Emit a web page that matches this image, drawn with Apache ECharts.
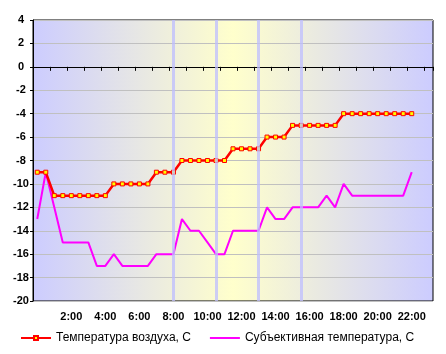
<!DOCTYPE html>
<html>
<head>
<meta charset="utf-8">
<script src="https://cdn.jsdelivr.net/npm/echarts@6/dist/echarts.min.js"></script>
<style>html,body{margin:0;padding:0;background:#fff}#c{width:446px;height:354px}</style>
</head>
<body>
<div id="c"></div>
<script>
var categories = ['0:00','0:30','1:00','1:30','2:00','2:30','3:00','3:30','4:00','4:30','5:00','5:30',
  '6:00','6:30','7:00','7:30','8:00','8:30','9:00','9:30','10:00','10:30','11:00','11:30',
  '12:00','12:30','13:00','13:30','14:00','14:30','15:00','15:30','16:00','16:30','17:00','17:30',
  '18:00','18:30','19:00','19:30','20:00','20:30','21:00','21:30','22:00','22:30','23:00'];
var tickLabels = ['2:00','4:00','6:00','8:00','10:00','12:00','14:00','16:00','18:00','20:00','22:00'];
var airTemp = [-9,-9,-11,-11,-11,-11,-11,-11,-11,-10,-10,-10,-10,-10,-9,-9,-9,-8,-8,-8,-8,-8,-8,
  -7,-7,-7,-7,-6,-6,-6,-5,-5,-5,-5,-5,-5,-4,-4,-4,-4,-4,-4,-4,-4,-4];
var feelTemp = [-13,-9,-12,-15,-15,-15,-15,-17,-17,-16,-17,-17,-17,-17,-16,-16,-16,-13,-14,-14,-15,-16,-16,
  -14,-14,-14,-14,-12,-13,-13,-12,-12,-12,-12,-11,-12,-10,-11,-11,-11,-11,-11,-11,-11,-9];
var bandTimes = ['8:00','10:30','13:00','15:30'];
var seriesNames = ['Температура воздуха, С','Субъективная температура, С'];

var font = 'Liberation Sans, Arial, sans-serif';
var chart = echarts.init(document.getElementById('c'), null, {renderer:'canvas'});
chart.setOption({
  animation: false,
  grid: {
    left: 33, right: 13, top: 20, bottom: 53,
    show: true,
    borderColor: '#000', borderWidth: 1,
    backgroundColor: new echarts.graphic.LinearGradient(0, 0, 1, 0, [
      {offset: 0, color: '#ccccff'},
      {offset: 0.5, color: '#ffffcc'},
      {offset: 1, color: '#ccccff'}
    ])
  },
  legend: {
    data: [
      {name: seriesNames[0]},
      {name: seriesNames[1], itemStyle: {opacity: 0}}
    ],
    left: 15, top: 327,
    itemWidth: 30, itemHeight: 5, itemGap: 18,
    textStyle: {fontFamily: font, fontSize: 12, color: '#000'}
  },
  xAxis: {
    type: 'category',
    data: categories,
    boundaryGap: true,
    axisLine: {lineStyle: {color: '#000', width: 1}},
    axisTick: {show: true, length: 4, interval: function(i){ return i % 2 === 0; }, lineStyle: {color: '#000'}},
    axisLabel: {
      interval: function(i, v){ return tickLabels.indexOf(v) >= 0; },
      margin: 10,
      fontFamily: font, fontSize: 11, fontWeight: 'bold', color: '#000'
    },
    splitLine: {show: false}
  },
  yAxis: {
    type: 'value',
    min: -20, max: 4, interval: 2,
    axisLine: {show: true, lineStyle: {color: '#000', width: 1}},
    axisTick: {show: true, length: 3, lineStyle: {color: '#000'}},
    axisLabel: {
      align: 'center', margin: 12,
      fontFamily: font, fontSize: 11, fontWeight: 'bold', color: '#000'
    },
    splitLine: {show: true, lineStyle: {color: '#c0c0c0', width: 1}}
  },
  series: [
    {
      name: 'bands', type: 'line', data: [], z: 1, silent: true,
      markLine: {
        silent: true, symbol: ['none','none'], label: {show: false},
        lineStyle: {color: 'rgba(190,190,255,0.75)', width: 3, type: 'solid'},
        data: bandTimes.map(function(t){ return {xAxis: t}; })
      }
    },
    {
      name: seriesNames[0], type: 'line', data: airTemp, z: 4,
      symbol: 'rect', symbolSize: 4, showAllSymbol: true,
      itemStyle: {color: '#ffff00', borderColor: '#ff0000', borderWidth: 1},
      lineStyle: {color: '#ff0000', width: 2.5}
    },
    {
      name: seriesNames[1], type: 'line', data: feelTemp, z: 3,
      symbol: 'none',
      itemStyle: {color: '#ff00ff'},
      lineStyle: {color: '#ff00ff', width: 2}
    }
  ]
});
</script>
</body>
</html>
